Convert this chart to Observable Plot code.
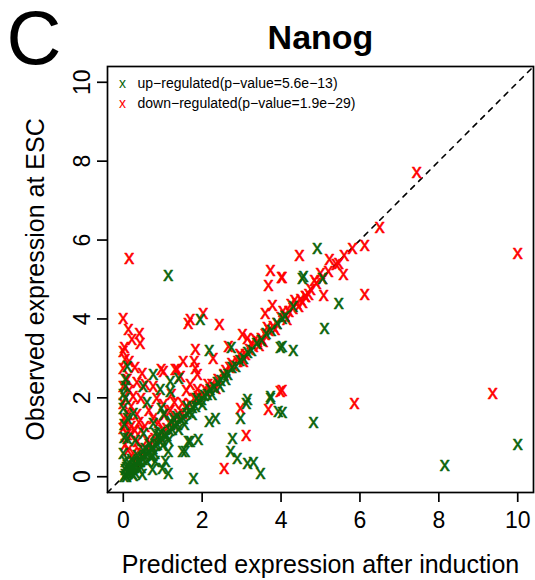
<!DOCTYPE html>
<html><head><meta charset="utf-8">
<script src="https://cdn.jsdelivr.net/npm/d3@7"></script>
<script src="https://cdn.jsdelivr.net/npm/@observablehq/plot@0.6"></script>
<style>body{margin:0;background:#fff;} svg{display:block}</style>
</head><body><div id="chart"></div>
<script>
const panelLetter = "C";
const title = "Nanog";
const xLabel = "Predicted expression after induction";
const yLabel = "Observed expression at ESC";
const xTicks = [0, 2, 4, 6, 8, 10];
const yTicks = [0, 2, 4, 6, 8, 10];
const seriesNames = ["up\u2212regulated(p\u2212value=5.6e\u221213)", "down\u2212regulated(p\u2212value=1.9e\u221229)"];
const seriesColors = ["#0b640b", "#ff0000"];
const diagonal = [-0.4, 10.4];

// up-regulated (green): [predicted, observed]
const upPoints = [
[0.02,0.02],[0.05,0.08],[0.08,0.04],[0.1,0.12],[0.12,0.1],[0.15,0.18],[0.18,0.14],[0.2,0.22],[0.23,0.2],[0.25,0.28],[0.28,0.25],[0.3,0.33],[0.33,0.3],[0.36,0.38],[0.4,0.42],[0.43,0.4],[0.47,0.5],[0.5,0.47],[0.55,0.57],[0.6,0.58],[0.64,0.66],[0.7,0.72],[0.75,0.73],[0.8,0.83],[0.86,0.85],[0.92,0.94],[0.98,0.96],[1.04,1.06],[1.1,1.08],[1.17,1.2],[1.24,1.22],[1.3,1.33],[1.37,1.35],[1.45,1.47],[1.52,1.5],[1.6,1.62],[1.68,1.66],[1.75,1.78],[1.83,1.8],[1.9,1.93],[1.98,1.97],[2.05,2.08],[2.13,2.1],[2.2,2.24],[2.3,2.28],[2.38,2.4],[2.47,2.46],[2.55,2.58],[2.65,2.62],[2.75,2.78],[2.85,2.83],[2.95,2.98],[3.05,3.02],[3.15,3.18],[3.25,3.22],[3.38,3.4],[3.5,3.47],[3.62,3.65],[3.75,3.73],[3.9,3.92],[4.03,4.04],[4.1,4.08],[4.3,4.33],
[0.1,0.3],[0.3,0.12],[0.2,0.45],[0.45,0.25],[0.5,0.7],[0.7,0.52],[0.9,1.1],[1.0,0.82],[1.2,1.42],[1.4,1.22],[0.05,0.2],[0.25,0.05],[0.6,0.4],[0.35,0.55],[0.8,0.62],[0.65,0.85],
[0.15,0.35],[0.4,0.2],[0.55,0.75],[0.75,0.55],[0.95,1.15],[1.15,0.95],[1.35,1.55],[1.55,1.35],[1.75,1.6],[1.6,1.8],[2.0,1.85],[2.25,2.1],[2.45,2.3],[2.6,2.5],[1.85,2.0],[0.08,0.25],[0.22,0.1],
[1.14,5.13],[0.1,2.82],[0.76,2.61],[1.19,2.44],[0.94,2.23],[1.4,2.51],[0.0,2.11],[0.0,1.75],[0.25,1.62],[0.0,0.61],[0.51,1.12],[0.76,1.37],[0.96,1.75],[1.27,1.5],[1.14,0.66],[1.07,0.41],[1.5,0.66],[1.65,0.91],[1.9,0.96],[0.74,0.2],[1.14,0.1],[1.78,-0.03],[2.18,1.42],[2.34,1.5],[2.77,0.99],[2.72,0.66],[2.89,0.48],[3.15,0.36],[3.3,0.38],[3.48,0.1],[3.12,1.88],[2.97,1.5],[3.73,2.0],[3.93,1.68],[3.98,3.3],[4.31,3.22],[4.03,3.32],[4.03,1.65],[4.82,1.4],[8.15,0.3],[10.0,0.84],[5.1,3.78],[5.46,4.42],[4.54,5.05],[5.05,5.05],[4.92,5.81],[1.95,4.01],[2.18,3.22],[2.74,3.3],[0.05,2.5],[0.05,2.3],[0.02,1.35],[0.1,1.0],[0.05,0.4],[0.3,0.95],[0.05,2.0],[0.1,1.5],[0.02,1.02],[1.02,1.6],[1.19,2.18],[0.81,1.12],[1.7,0.91],[1.57,0.66],[0.81,0.41],[0.99,0.23],[0.48,0.08],[3.15,1.98],[3.73,2.06],[4.57,5.1],[0.5,2.3],[0.6,1.9]
];

// down-regulated (red): [predicted, observed]
const downPoints = [
[0.3,0.4],[0.5,0.62],[0.7,0.85],[0.9,1.05],[1.1,1.25],[1.3,1.45],[1.5,1.62],[1.7,1.85],[1.9,2.05],[2.1,2.22],[2.25,2.35],[2.4,2.5],[2.55,2.62],[2.7,2.78],[2.8,2.85],[2.9,2.95],[3.0,3.06],[3.1,3.12],[3.2,3.25],[3.3,3.32],[3.4,3.45],[3.5,3.52],[3.6,3.62],[3.7,3.72],[3.8,3.82],[3.9,3.9],[4.0,4.05],[4.1,4.12],[4.2,4.22],[4.3,4.3],[4.4,4.42],[4.5,4.52],[4.62,4.6],[4.75,4.78],[4.9,4.92],[5.05,5.05],[5.2,5.22],[5.4,5.4],[5.6,5.62],[5.81,5.81],[6.12,5.89],[2.0,2.12],[2.6,2.72],[3.35,3.5],[3.55,3.45],[4.25,4.4],[4.45,4.35],[2.95,3.12],[1.6,1.8],[1.2,1.35],[0.8,1.0],
[2.15,2.35],[2.35,2.25],[2.75,2.9],[3.05,2.95],[3.25,3.4],[3.45,3.35],[3.65,3.8],[3.85,3.75],[4.05,4.2],[4.15,4.0],[4.35,4.5],[4.55,4.45],[4.7,4.65],[4.85,5.0],[1.0,1.2],[1.4,1.6],[1.8,2.0],
[0.15,5.56],[3.73,5.25],[4.01,5.08],[3.68,4.87],[3.78,4.37],[3.6,4.16],[0.0,4.04],[0.13,3.76],[0.41,3.66],[0.43,3.4],[0.22,3.5],[0.03,3.3],[0.0,3.2],[1.65,3.91],[1.7,4.0],[2.03,4.16],[2.44,3.88],[1.83,3.25],[1.52,2.94],[1.8,2.94],[2.28,3.02],[2.67,3.32],[3.02,3.63],[3.15,3.53],[0.0,2.77],[0.48,2.64],[0.96,2.74],[0.56,2.36],[0.76,2.31],[1.37,2.74],[1.45,2.56],[1.88,2.61],[0.0,2.31],[0.0,1.88],[0.13,1.6],[0.0,1.24],[0.18,1.09],[0.05,0.84],[0.36,0.91],[0.76,1.5],[1.02,1.85],[1.22,2.11],[1.5,1.88],[1.88,2.23],[1.7,2.36],[3.12,1.07],[2.56,0.23],[2.97,1.75],[3.98,2.18],[3.68,1.73],[4.03,2.2],[5.86,1.88],[9.37,2.13],[10.0,5.68],[7.44,7.74],[6.5,6.33],[4.47,5.63],[5.23,5.53],[5.46,5.43],[5.58,5.15],[5.0,5.18],[4.03,5.08],[4.62,4.59],[5.08,4.62],[6.12,4.64],[0.05,2.0],[0.1,2.5],[0.02,1.5],[0.08,1.35],[0.2,1.3],[0.3,1.2],[0.25,2.05],[0.15,2.2],[0.05,3.0],[0.35,1.6],[0.4,1.4],[0.45,1.2],[0.55,1.3],[0.65,1.7],[0.85,2.0],[0.6,0.95],[0.4,0.7],[0.25,0.6],[1.3,1.9],[1.05,1.6],[0.9,1.4],[1.2,1.7],[1.6,2.2],[1.32,2.74],[1.83,2.77],[1.02,2.69],[0.1,1.1],[0.12,0.7],[0.3,2.8],[0.15,2.95],[0.35,2.4],[0.2,1.8],[0.45,2.0]
];

const font = "'Liberation Sans', Arial, Helvetica, sans-serif";
const lw = 1.7;
const c = {textAnchor: "middle", lineAnchor: "middle"};

const chart = Plot.plot({
  width: 535, height: 580,
  marginLeft: 107, marginRight: 2, marginTop: 66, marginBottom: 88,
  x: {domain: diagonal, label: null},
  y: {domain: diagonal, label: null},
  style: {fontFamily: font, background: "white", color: "black", overflow: "visible"},
  marks: [
    Plot.line(diagonal, {x: d => d, y: d => d, stroke: "black", strokeWidth: 1.6, strokeDasharray: "5,6"}),
    Plot.text(downPoints, {x: d => d[0], y: d => d[1], text: () => "x", fill: seriesColors[1], stroke: seriesColors[1], strokeWidth: 0.5, fontSize: 20, ...c}),
    Plot.text(upPoints, {x: d => d[0], y: d => d[1], text: () => "x", fill: seriesColors[0], stroke: seriesColors[0], strokeWidth: 0.5, fontSize: 20, ...c}),
    Plot.frame({stroke: "black", strokeWidth: lw}),
    Plot.axisX({ticks: xTicks, tickSize: 10, tickPadding: 9, fontSize: 23, strokeWidth: lw, label: null}),
    Plot.axisY({ticks: yTicks, tickSize: 10, tickFormat: () => "", strokeWidth: lw, label: null}),
    Plot.text(yTicks, {y: d => d, frameAnchor: "left", dx: -25, rotate: -90, text: d => String(d), fontSize: 23, ...c}),
    Plot.text([xLabel], {frameAnchor: "bottom", dy: 72, text: d => d, fontSize: 25, ...c}),
    Plot.text([yLabel], {frameAnchor: "left", dx: -72, rotate: -90, text: d => d, fontSize: 25, ...c}),
    Plot.text([title], {frameAnchor: "top", dy: -28, text: d => d, fontSize: 34, fontWeight: "bold", ...c}),
    Plot.text([panelLetter], {frameAnchor: "top-left", dx: -101, dy: -27, text: d => d, fontSize: 76, textAnchor: "start", lineAnchor: "middle"}),
    Plot.text(["x"], {frameAnchor: "top-left", dx: 15, dy: 17, text: d => d, fill: seriesColors[0], fontSize: 14, ...c}),
    Plot.text(["x"], {frameAnchor: "top-left", dx: 15, dy: 37, text: d => d, fill: seriesColors[1], fontSize: 14, ...c}),
    Plot.text([seriesNames[0]], {frameAnchor: "top-left", dx: 30, dy: 17, text: d => d, fontSize: 14, textAnchor: "start", lineAnchor: "middle"}),
    Plot.text([seriesNames[1]], {frameAnchor: "top-left", dx: 30, dy: 37, text: d => d, fontSize: 14, textAnchor: "start", lineAnchor: "middle"})
  ]
});
document.getElementById("chart").appendChild(chart);
</script>
</body></html>
